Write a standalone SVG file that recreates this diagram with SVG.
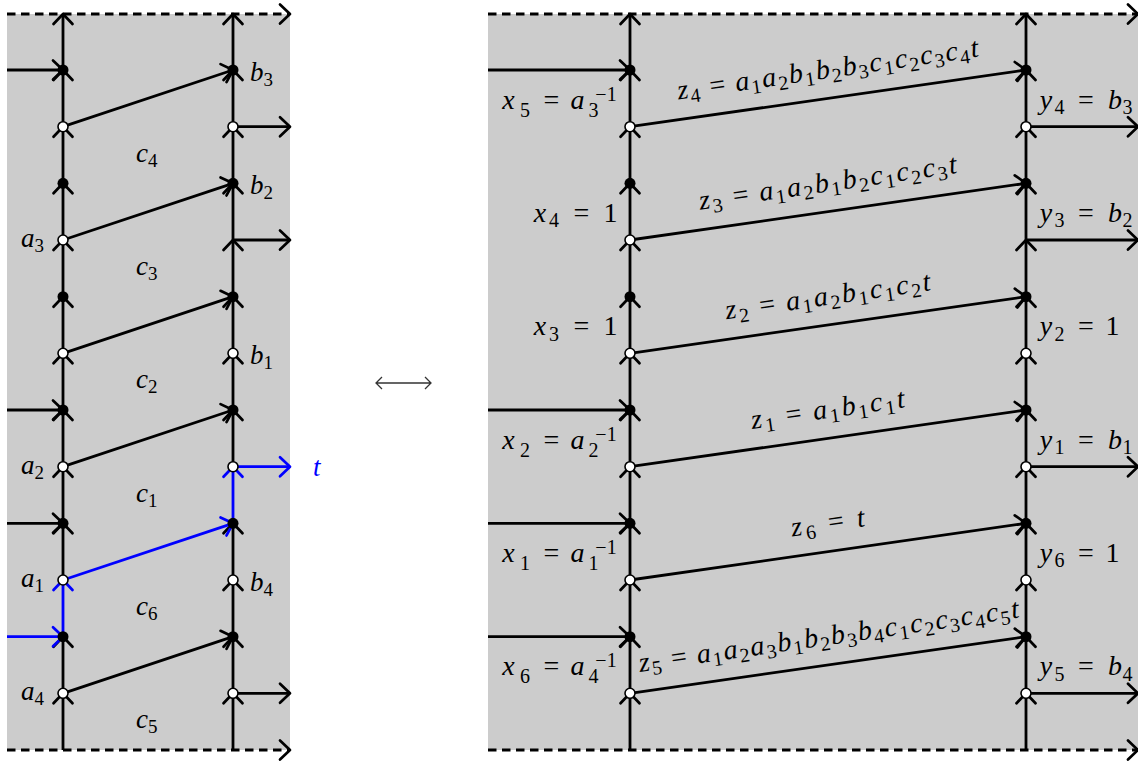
<svg xmlns="http://www.w3.org/2000/svg" width="1138" height="764" viewBox="0 0 1138 764" font-family="Liberation Serif, Times New Roman, DejaVu Serif, serif">
<style>
.bg{fill:#cccccc}
.ln{fill:none;stroke:#000;stroke-width:2.8;marker-end:url(#ah)}
.col{marker-mid:url(#ah)}
.blu{stroke:#0000ff;marker-end:url(#ahb)}
.dash{stroke-dasharray:8.5 5.5}
.fn{fill:#000}
.on{fill:#fff;stroke:#000;stroke-width:1.6}
text{font-family:"Liberation Serif","Times New Roman","DejaVu Serif",serif}
.lm{font-style:italic;font-size:27px}
.ls{font-style:normal;font-size:19px}
.tb{fill:#0000ff}
.rm{font-style:italic;font-size:28px;text-anchor:middle}
.rr{font-style:normal}
.rs{font-style:normal;font-size:20px;text-anchor:middle}
.zl{font-style:italic;font-size:28px;text-anchor:middle}
.zs{font-style:normal;font-size:20px}
.zr{font-style:normal}
</style>
<defs>
<marker id="ah" markerUnits="userSpaceOnUse" markerWidth="24" markerHeight="24" refX="0" refY="0" orient="auto" overflow="visible"><path d="M-10,-9.5 L0,0 L-10,9.5" fill="none" stroke="#000" stroke-width="2.7" stroke-linejoin="round" stroke-linecap="round"/></marker>
<marker id="ahb" markerUnits="userSpaceOnUse" markerWidth="24" markerHeight="24" refX="0" refY="0" orient="auto" overflow="visible"><path d="M-10,-9.5 L0,0 L-10,9.5" fill="none" stroke="#0000ff" stroke-width="2.7" stroke-linejoin="round" stroke-linecap="round"/></marker>
</defs>
<rect class="bg" x="7" y="14" width="283" height="736"/>
<rect class="bg" x="488" y="14" width="650" height="736"/>
<g id="connectors">
<path class="ln dash" d="M7,14 H290"/>
<path class="ln dash" d="M7,750 H290"/>
<polyline class="ln col" points="63,750 63,693.3 63,636.7"/>
<polyline class="ln blu" points="63,636.7 63,580"/>
<polyline class="ln col" points="63,580 63,523.3 63,466.7 63,410 63,353.3 63,296.7 63,240 63,183.3 63,126.7 63,70 63,14"/>
<polyline class="ln col" points="233,750 233,693.3 233,636.7 233,580 233,523.3"/>
<polyline class="ln blu" points="233,523.3 233,466.7"/>
<polyline class="ln col" points="233,466.7 233,410 233,353.3 233,296.7 233,240 233,183.3 233,126.7 233,70 233,14"/>
<path class="ln" d="M63,126.7 L233,70"/>
<path class="ln" d="M63,240 L233,183.3"/>
<path class="ln" d="M63,353.3 L233,296.7"/>
<path class="ln" d="M63,466.7 L233,410"/>
<path class="ln blu" d="M63,580 L233,523.3"/>
<path class="ln" d="M63,693.3 L233,636.7"/>
<path class="ln" d="M7,70 H63"/>
<path class="ln" d="M7,410 H63"/>
<path class="ln" d="M7,523.3 H63"/>
<path class="ln blu" d="M7,636.7 H63"/>
<path class="ln" d="M233,126.7 H290"/>
<path class="ln" d="M233,240 H290"/>
<path class="ln blu" d="M233,466.7 H290"/>
<path class="ln" d="M233,693.3 H290"/>
<path class="ln dash" d="M488,14 H1138"/>
<path class="ln dash" d="M488,750 H1138"/>
<polyline class="ln col" points="630,750 630,693.3 630,636.7 630,580 630,523.3 630,466.7 630,410 630,353.3 630,296.7 630,240 630,183.3 630,126.7 630,70 630,14"/>
<polyline class="ln col" points="1026,750 1026,693.3 1026,636.7 1026,580 1026,523.3 1026,466.7 1026,410 1026,353.3 1026,296.7 1026,240 1026,183.3 1026,126.7 1026,70 1026,14"/>
<path class="ln" d="M630,126.7 L1026,70"/>
<path class="ln" d="M630,240 L1026,183.3"/>
<path class="ln" d="M630,353.3 L1026,296.7"/>
<path class="ln" d="M630,466.7 L1026,410"/>
<path class="ln" d="M630,580 L1026,523.3"/>
<path class="ln" d="M630,693.3 L1026,636.7"/>
<path class="ln" d="M488,70 H630"/>
<path class="ln" d="M488,410 H630"/>
<path class="ln" d="M488,523.3 H630"/>
<path class="ln" d="M488,636.7 H630"/>
<path class="ln" d="M1026,126.7 H1138"/>
<path class="ln" d="M1026,240 H1138"/>
<path class="ln" d="M1026,466.7 H1138"/>
<path class="ln" d="M1026,693.3 H1138"/>
<path d="M376,383 H431 M382,377 L376,383 L382,389 M425,377 L431,383 L425,389" fill="none" stroke="#333" stroke-width="1.3"/>
</g>
<g id="nodes">
<g id="A0"><circle class="fn" cx="63" cy="70" r="5.5"/></g>
<g id="A1"><circle class="on" cx="63" cy="126.7" r="5"/></g>
<g id="A2"><circle class="fn" cx="63" cy="183.3" r="5.5"/></g>
<g id="A3"><circle class="on" cx="63" cy="240" r="5"/></g>
<g id="A4"><circle class="fn" cx="63" cy="296.7" r="5.5"/></g>
<g id="A5"><circle class="on" cx="63" cy="353.3" r="5"/></g>
<g id="A6"><circle class="fn" cx="63" cy="410" r="5.5"/></g>
<g id="A7"><circle class="on" cx="63" cy="466.7" r="5"/></g>
<g id="A8"><circle class="fn" cx="63" cy="523.3" r="5.5"/></g>
<g id="A9"><circle class="on" cx="63" cy="580" r="5"/></g>
<g id="A10"><circle class="fn" cx="63" cy="636.7" r="5.5"/></g>
<g id="A11"><circle class="on" cx="63" cy="693.3" r="5"/></g>
<g id="B0"><circle class="fn" cx="233" cy="70" r="5.5"/></g>
<g id="B1"><circle class="on" cx="233" cy="126.7" r="5"/></g>
<g id="B2"><circle class="fn" cx="233" cy="183.3" r="5.5"/></g>
<g id="B4"><circle class="fn" cx="233" cy="296.7" r="5.5"/></g>
<g id="B5"><circle class="on" cx="233" cy="353.3" r="5"/></g>
<g id="B6"><circle class="fn" cx="233" cy="410" r="5.5"/></g>
<g id="B7"><circle class="on" cx="233" cy="466.7" r="5"/></g>
<g id="B8"><circle class="fn" cx="233" cy="523.3" r="5.5"/></g>
<g id="B9"><circle class="on" cx="233" cy="580" r="5"/></g>
<g id="B10"><circle class="fn" cx="233" cy="636.7" r="5.5"/></g>
<g id="B11"><circle class="on" cx="233" cy="693.3" r="5"/></g>
<g id="C0"><circle class="fn" cx="630" cy="70" r="5.5"/></g>
<g id="C1"><circle class="on" cx="630" cy="126.7" r="5"/></g>
<g id="C2"><circle class="fn" cx="630" cy="183.3" r="5.5"/></g>
<g id="C3"><circle class="on" cx="630" cy="240" r="5"/></g>
<g id="C4"><circle class="fn" cx="630" cy="296.7" r="5.5"/></g>
<g id="C5"><circle class="on" cx="630" cy="353.3" r="5"/></g>
<g id="C6"><circle class="fn" cx="630" cy="410" r="5.5"/></g>
<g id="C7"><circle class="on" cx="630" cy="466.7" r="5"/></g>
<g id="C8"><circle class="fn" cx="630" cy="523.3" r="5.5"/></g>
<g id="C9"><circle class="on" cx="630" cy="580" r="5"/></g>
<g id="C10"><circle class="fn" cx="630" cy="636.7" r="5.5"/></g>
<g id="C11"><circle class="on" cx="630" cy="693.3" r="5"/></g>
<g id="D0"><circle class="fn" cx="1026" cy="70" r="5.5"/></g>
<g id="D1"><circle class="on" cx="1026" cy="126.7" r="5"/></g>
<g id="D2"><circle class="fn" cx="1026" cy="183.3" r="5.5"/></g>
<g id="D4"><circle class="fn" cx="1026" cy="296.7" r="5.5"/></g>
<g id="D5"><circle class="on" cx="1026" cy="353.3" r="5"/></g>
<g id="D6"><circle class="fn" cx="1026" cy="410" r="5.5"/></g>
<g id="D7"><circle class="on" cx="1026" cy="466.7" r="5"/></g>
<g id="D8"><circle class="fn" cx="1026" cy="523.3" r="5.5"/></g>
<g id="D9"><circle class="on" cx="1026" cy="580" r="5"/></g>
<g id="D10"><circle class="fn" cx="1026" cy="636.7" r="5.5"/></g>
<g id="D11"><circle class="on" cx="1026" cy="693.3" r="5"/></g>
</g>
<g id="labels-left">
<text class="lm" x="250" y="81">b<tspan class="ls" dy="5">3</tspan></text>
<text class="lm" x="250" y="194.3">b<tspan class="ls" dy="5">2</tspan></text>
<text class="lm" x="250" y="364.3">b<tspan class="ls" dy="5">1</tspan></text>
<text class="lm" x="250" y="591">b<tspan class="ls" dy="5">4</tspan></text>
<text class="lm" x="21" y="247">a<tspan class="ls" dy="5">3</tspan></text>
<text class="lm" x="21" y="473.7">a<tspan class="ls" dy="5">2</tspan></text>
<text class="lm" x="21" y="587">a<tspan class="ls" dy="5">1</tspan></text>
<text class="lm" x="21" y="700.3">a<tspan class="ls" dy="5">4</tspan></text>
<text class="lm" x="136" y="161.7">c<tspan class="ls" dy="5">4</tspan></text>
<text class="lm" x="136" y="275">c<tspan class="ls" dy="5">3</tspan></text>
<text class="lm" x="136" y="388.3">c<tspan class="ls" dy="5">2</tspan></text>
<text class="lm" x="136" y="501.7">c<tspan class="ls" dy="5">1</tspan></text>
<text class="lm" x="136" y="615">c<tspan class="ls" dy="5">6</tspan></text>
<text class="lm" x="136" y="728.3">c<tspan class="ls" dy="5">5</tspan></text>
<text class="lm tb" x="313" y="476">t</text>
</g>
<g id="labels-x">
<g><text class="rm" x="508.5" y="108.5">x</text><text class="rs" x="525" y="116.5">5</text><text class="rm rr" x="551.5" y="108.5">=</text><text class="rm" x="577.5" y="108.5">a</text><text class="rs" x="593.5" y="116.5">3</text><text class="rs" x="606" y="100.5">−1</text></g>
<g><text class="rm" x="540" y="221.8">x</text><text class="rs" x="554" y="227.3">4</text><text class="rm rr" x="581.5" y="221.8">=</text><text class="rm rr" x="610.5" y="221.8">1</text></g>
<g><text class="rm" x="540" y="335.2">x</text><text class="rs" x="554" y="340.7">3</text><text class="rm rr" x="581.5" y="335.2">=</text><text class="rm rr" x="610.5" y="335.2">1</text></g>
<g><text class="rm" x="508.5" y="448.5">x</text><text class="rs" x="525" y="456.5">2</text><text class="rm rr" x="551.5" y="448.5">=</text><text class="rm" x="577.5" y="448.5">a</text><text class="rs" x="593.5" y="456.5">2</text><text class="rs" x="606" y="440.5">−1</text></g>
<g><text class="rm" x="508.5" y="561.8">x</text><text class="rs" x="525" y="569.8">1</text><text class="rm rr" x="551.5" y="561.8">=</text><text class="rm" x="577.5" y="561.8">a</text><text class="rs" x="593.5" y="569.8">1</text><text class="rs" x="606" y="553.8">−1</text></g>
<g><text class="rm" x="508.5" y="675.2">x</text><text class="rs" x="525" y="683.2">6</text><text class="rm rr" x="551.5" y="675.2">=</text><text class="rm" x="577.5" y="675.2">a</text><text class="rs" x="593.5" y="683.2">4</text><text class="rs" x="606" y="667.2">−1</text></g>
</g>
<g id="labels-y">
<g><text class="rm" x="1046" y="108.5">y</text><text class="rs" x="1059.5" y="114">4</text><text class="rm rr" x="1086" y="108.5">=</text><text class="rm" x="1115" y="108.5">b</text><text class="rs" x="1127.5" y="114">3</text></g>
<g><text class="rm" x="1046" y="221.8">y</text><text class="rs" x="1059.5" y="227.3">3</text><text class="rm rr" x="1086" y="221.8">=</text><text class="rm" x="1115" y="221.8">b</text><text class="rs" x="1127.5" y="227.3">2</text></g>
<g><text class="rm" x="1046" y="335.2">y</text><text class="rs" x="1059.5" y="340.7">2</text><text class="rm rr" x="1086" y="335.2">=</text><text class="rm rr" x="1112.5" y="335.2">1</text></g>
<g><text class="rm" x="1046" y="448.5">y</text><text class="rs" x="1059.5" y="454">1</text><text class="rm rr" x="1086" y="448.5">=</text><text class="rm" x="1115" y="448.5">b</text><text class="rs" x="1127.5" y="454">1</text></g>
<g><text class="rm" x="1046" y="561.8">y</text><text class="rs" x="1059.5" y="567.3">6</text><text class="rm rr" x="1086" y="561.8">=</text><text class="rm rr" x="1112.5" y="561.8">1</text></g>
<g><text class="rm" x="1046" y="675.2">y</text><text class="rs" x="1059.5" y="680.7">5</text><text class="rm rr" x="1086" y="675.2">=</text><text class="rm" x="1115" y="675.2">b</text><text class="rs" x="1127.5" y="680.7">4</text></g>
</g>
<g id="labels-z">
<text class="zl" transform="translate(829,78) rotate(-8.14)" textLength="304" lengthAdjust="spacing">z<tspan class="zs" dy="5">4</tspan><tspan class="zr" dy="-5"> = </tspan>a<tspan class="zs" dy="5">1</tspan><tspan dy="-5">a</tspan><tspan class="zs" dy="5">2</tspan><tspan dy="-5">b</tspan><tspan class="zs" dy="5">1</tspan><tspan dy="-5">b</tspan><tspan class="zs" dy="5">2</tspan><tspan dy="-5">b</tspan><tspan class="zs" dy="5">3</tspan><tspan dy="-5">c</tspan><tspan class="zs" dy="5">1</tspan><tspan dy="-5">c</tspan><tspan class="zs" dy="5">2</tspan><tspan dy="-5">c</tspan><tspan class="zs" dy="5">3</tspan><tspan dy="-5">c</tspan><tspan class="zs" dy="5">4</tspan><tspan dy="-5">t</tspan></text>
<text class="zl" transform="translate(829,191.3) rotate(-8.14)" textLength="260" lengthAdjust="spacing">z<tspan class="zs" dy="5">3</tspan><tspan class="zr" dy="-5"> = </tspan>a<tspan class="zs" dy="5">1</tspan><tspan dy="-5">a</tspan><tspan class="zs" dy="5">2</tspan><tspan dy="-5">b</tspan><tspan class="zs" dy="5">1</tspan><tspan dy="-5">b</tspan><tspan class="zs" dy="5">2</tspan><tspan dy="-5">c</tspan><tspan class="zs" dy="5">1</tspan><tspan dy="-5">c</tspan><tspan class="zs" dy="5">2</tspan><tspan dy="-5">c</tspan><tspan class="zs" dy="5">3</tspan><tspan dy="-5">t</tspan></text>
<text class="zl" transform="translate(829,304.7) rotate(-8.14)" textLength="207" lengthAdjust="spacing">z<tspan class="zs" dy="5">2</tspan><tspan class="zr" dy="-5"> = </tspan>a<tspan class="zs" dy="5">1</tspan><tspan dy="-5">a</tspan><tspan class="zs" dy="5">2</tspan><tspan dy="-5">b</tspan><tspan class="zs" dy="5">1</tspan><tspan dy="-5">c</tspan><tspan class="zs" dy="5">1</tspan><tspan dy="-5">c</tspan><tspan class="zs" dy="5">2</tspan><tspan dy="-5">t</tspan></text>
<text class="zl" transform="translate(829,418) rotate(-8.14)" textLength="155" lengthAdjust="spacing">z<tspan class="zs" dy="5">1</tspan><tspan class="zr" dy="-5"> = </tspan>a<tspan class="zs" dy="5">1</tspan><tspan dy="-5">b</tspan><tspan class="zs" dy="5">1</tspan><tspan dy="-5">c</tspan><tspan class="zs" dy="5">1</tspan><tspan dy="-5">t</tspan></text>
<text class="zl" transform="translate(829,531.3) rotate(-8.14)" textLength="74" lengthAdjust="spacing">z<tspan class="zs" dy="5">6</tspan><tspan class="zr" dy="-5"> = </tspan>t</text>
<text class="zl" transform="translate(830,644.7) rotate(-8.14)" textLength="384" lengthAdjust="spacing">z<tspan class="zs" dy="5">5</tspan><tspan class="zr" dy="-5"> = </tspan>a<tspan class="zs" dy="5">1</tspan><tspan dy="-5">a</tspan><tspan class="zs" dy="5">2</tspan><tspan dy="-5">a</tspan><tspan class="zs" dy="5">3</tspan><tspan dy="-5">b</tspan><tspan class="zs" dy="5">1</tspan><tspan dy="-5">b</tspan><tspan class="zs" dy="5">2</tspan><tspan dy="-5">b</tspan><tspan class="zs" dy="5">3</tspan><tspan dy="-5">b</tspan><tspan class="zs" dy="5">4</tspan><tspan dy="-5">c</tspan><tspan class="zs" dy="5">1</tspan><tspan dy="-5">c</tspan><tspan class="zs" dy="5">2</tspan><tspan dy="-5">c</tspan><tspan class="zs" dy="5">3</tspan><tspan dy="-5">c</tspan><tspan class="zs" dy="5">4</tspan><tspan dy="-5">c</tspan><tspan class="zs" dy="5">5</tspan><tspan dy="-5">t</tspan></text>
</g>
</svg>
